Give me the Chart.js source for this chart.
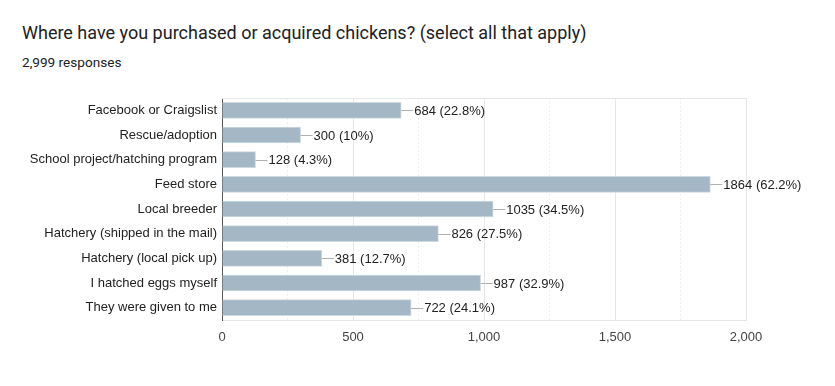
<!DOCTYPE html>
<html lang="en">
<head>
<meta charset="UTF-8">
<title>Where have you purchased or acquired chickens?</title>
<style>
  body { margin: 0; background: #fff; }
  .wrap { position: relative; width: 835px; height: 386px; }
  .title { position: absolute; left: 22px; top: 22px; font: 18px Roboto, Arial, sans-serif; color: #202124; }
  .sub { position: absolute; left: 22px; top: 54px; font: 13.6px Roboto, Arial, sans-serif; color: #202124; }
  canvas { position: absolute; left: 0; top: 0; }
</style>
</head>
<body>
<div class="wrap">
  <div class="title">Where have you purchased or acquired chickens? (select all that apply)</div>
  <div class="sub">2,999 responses</div>
  <canvas id="chart" width="835" height="386"></canvas>
</div>

<script src="https://cdn.jsdelivr.net/npm/chart.js"></script>
<script>
const categories = [
  'Facebook or Craigslist',
  'Rescue/adoption',
  'School project/hatching program',
  'Feed store',
  'Local breeder',
  'Hatchery (shipped in the mail)',
  'Hatchery (local pick up)',
  'I hatched eggs myself',
  'They were given to me'
];
const counts = [684, 300, 128, 1864, 1035, 826, 381, 987, 722];
const percents = ['22.8%', '10%', '4.3%', '62.2%', '34.5%', '27.5%', '12.7%', '32.9%', '24.1%'];
const xTicks = [0, 500, 1000, 1500, 2000];

// value labels with a short connector line, drawn after the bars
const valueLabels = {
  id: 'valueLabels',
  afterDatasetsDraw(chart) {
    const ctx = chart.ctx;
    const meta = chart.getDatasetMeta(0);
    ctx.save();
    ctx.font = '13px Arial, "Liberation Sans", sans-serif';
    ctx.textBaseline = 'middle';
    meta.data.forEach((bar, i) => {
      const x = bar.x, y = bar.y;
      ctx.strokeStyle = '#b0b0b0';
      ctx.lineWidth = 1;
      ctx.beginPath();
      ctx.moveTo(x, Math.round(y) + 0.5);
      ctx.lineTo(x + 12, Math.round(y) + 0.5);
      ctx.stroke();
      ctx.fillStyle = '#222';
      ctx.fillText(counts[i] + ' (' + percents[i] + ')', x + 13, y + 1);
    });
    ctx.restore();
  },
  beforeDatasetsDraw(chart) {
    const a = chart.chartArea;
    const ctx = chart.ctx;
    ctx.save();
    ctx.strokeStyle = '#e6e6e6';
    ctx.lineWidth = 1;
    ctx.beginPath();
    ctx.moveTo(a.left, Math.round(a.top) + 0.5);
    ctx.lineTo(a.right, Math.round(a.top) + 0.5);
    ctx.stroke();
    ctx.restore();
  }
};

new Chart(document.getElementById('chart'), {
  type: 'bar',
  data: {
    labels: categories,
    datasets: [{
      data: counts,
      backgroundColor: '#a3b7c5',
      borderColor: '#cdd8e0',
      borderWidth: 1,
      barThickness: 16
    }]
  },
  options: {
    indexAxis: 'y',
    responsive: false,
    animation: false,
    layout: { padding: { top: 98, right: 89, bottom: 26, left: 0 } },
    plugins: { legend: { display: false }, tooltip: { enabled: false } },
    scales: {
      x: {
        min: 0,
        max: 2000,
        afterFit(scale) { scale.height = 40; },
        ticks: {
          stepSize: 250,
          padding: 10,
          color: '#444',
          font: { family: 'Arial, "Liberation Sans", sans-serif', size: 13 },
          callback: (v) => xTicks.includes(v) ? v.toLocaleString('en-US') : ''
        },
        grid: {
          drawTicks: false,
          color: (c) => (c.tick && c.tick.value % 500 !== 0) ? '#efefef' : '#e6e6e6'
        },
        border: {
          color: '#e6e6e6',
          dash: (c) => (c.tick && c.tick.value % 500 !== 0) ? [2, 2] : []
        }
      },
      y: {
        afterFit(scale) { scale.width = 222; },
        grid: { display: false, drawTicks: false },
        border: { color: '#555', width: 1 },
        ticks: {
          padding: 5,
          color: '#222',
          font: { family: 'Arial, "Liberation Sans", sans-serif', size: 13 }
        }
      }
    }
  },
  plugins: [valueLabels]
});
</script>
</body>
</html>
